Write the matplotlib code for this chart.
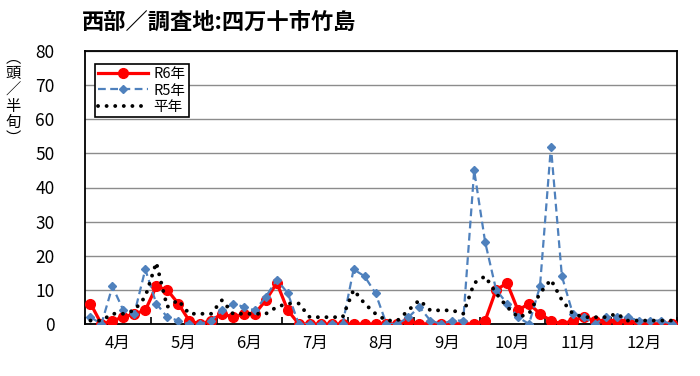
import numpy as np
import matplotlib
matplotlib.use("Agg")
import matplotlib.pyplot as plt

plt.rcParams['font.family'] = ['Noto Sans CJK JP', 'DejaVu Sans']

# =============================================
# DATA (頭/半旬, 6 half-decades per month, Apr-Dec)
# =============================================
months = ['4月', '5月', '6月', '7月', '8月', '9月', '10月', '11月', '12月']

r6 = [6, 0, 1, 2, 3, 4,
      11, 10, 6, 1, 0, 1,
      3, 2, 3, 3, 7, 12,
      4, 0, 0, 0, 0, 0,
      0, 0, 0, 0, 0, 1,
      0, 0, 0, 0, 0, 0,
      1, 10, 12, 4, 6, 3,
      1, 0, 1, 2, 1, 1,
      1, 1, 0, 0, 0, 0]

r5 = [2, 0, 11, 4, 3, 16,
      6, 2, 1, 0, 0, 1,
      4, 6, 5, 4, 8, 13,
      9, 0, 0, 0, 0, 0,
      16, 14, 9, 0, 0, 2,
      5, 1, 0, 1, 1, 45,
      24, 10, 6, 2, 0, 11,
      52, 14, 3, 2, 0, 2,
      2, 2, 1, 1, 1, 0]

normal = [1, 1, 3, 3, 4, 8,
          18, 5, 7, 3, 3, 3,
          7, 3, 3, 3, 3, 5,
          6, 6, 2, 2, 2, 2,
          10, 6, 3, 1, 1, 4,
          7, 4, 4, 4, 3, 12,
          14, 9, 5, 2, 3, 9,
          13, 7, 3, 2, 2, 2,
          3, 1, 1, 1, 1, 1]

x = np.arange(len(r6))

fig = plt.figure(figsize=(7.0, 3.76), dpi=100)
ax = fig.add_axes([85 / 700, 52 / 376, 592 / 700, 273 / 376])

ax.plot(x, r6, color='#FF0000', linewidth=2.3, marker='o', markersize=7,
        label='R6年', zorder=3)
ax.plot(x, r5, color='#4F81BD', linewidth=1.6, linestyle=(0, (3.5, 2)),
        marker='D', markersize=4.5, label='R5年', zorder=4)
ax.plot(x, normal, color='black', linewidth=2.8, linestyle=(0, (0.01, 2.2)),
        dash_capstyle='round', label='平年', zorder=5)

ax.set_xlim(-0.5, len(r6) - 0.5)
ax.set_ylim(0, 80)
ax.set_yticks(np.arange(0, 81, 10))
ax.yaxis.grid(True, color='#8C8C8C', linewidth=1.0)
ax.set_axisbelow(True)
ax.tick_params(axis='y', length=0, pad=22, labelsize=12.5)

# month boundaries as major ticks, month names centered as minor ticks
ax.set_xticks(np.arange(-0.5, len(r6), 6))
ax.set_xticklabels([])
ax.set_xticks(np.arange(2.5, len(r6), 6), minor=True)
ax.set_xticklabels(months, minor=True)
ax.tick_params(axis='x', which='major', direction='in', length=5, width=1.2)
ax.tick_params(axis='x', which='minor', length=0, pad=8, labelsize=12)

for sp in ax.spines.values():
    sp.set_color('black')
    sp.set_linewidth(1.3)

leg = ax.legend(loc='upper left', bbox_to_anchor=(0.004, 0.98), fontsize=10.5,
                frameon=True, fancybox=False, edgecolor='black', framealpha=1,
                handlelength=3.4, borderpad=0.25, labelspacing=0.15, handletextpad=0.4)
leg.get_frame().set_linewidth(1.2)

fig.text(82 / 700, 1 - 22 / 376, '西部／調査地:四万十市竹島', fontsize=16,
         fontweight='bold', ha='left', va='center')
fig.text(13 / 700, 1 - 98 / 376, '︵\n頭\n／\n半\n旬\n︶', fontsize=11,
         ha='center', va='center', linespacing=0.95)

fig.savefig('out.png', dpi=100, facecolor='white')
